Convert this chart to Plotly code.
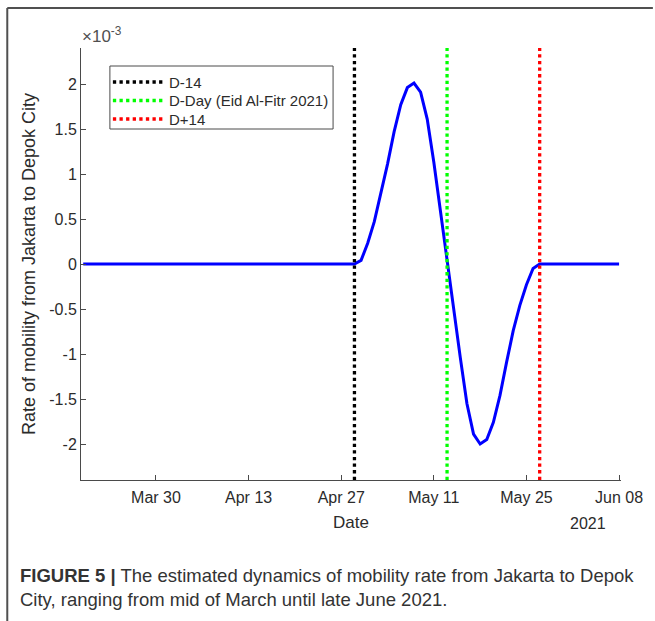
import plotly.graph_objects as go

# ---- data (rate values in units of 1e-3) ----
flat_before_dates = ["2021-03-19", "2021-04-29"]
flat_before_vals = [0.0, 0.0]

event_dates = ["2021-04-29", "2021-04-30", "2021-05-01", "2021-05-02", "2021-05-03",
               "2021-05-04", "2021-05-05", "2021-05-06", "2021-05-07", "2021-05-08",
               "2021-05-09", "2021-05-10", "2021-05-11", "2021-05-12", "2021-05-13",
               "2021-05-14", "2021-05-15", "2021-05-16", "2021-05-17", "2021-05-18",
               "2021-05-19", "2021-05-20", "2021-05-21", "2021-05-22", "2021-05-23",
               "2021-05-24", "2021-05-25", "2021-05-26", "2021-05-27"]
event_vals = [0.0, 0.04, 0.23, 0.47, 0.78, 1.11, 1.47, 1.77, 1.96, 2.01,
              1.91, 1.61, 1.13, 0.58, 0.0, -0.52, -1.04, -1.55, -1.89, -2.0,
              -1.95, -1.76, -1.46, -1.09, -0.74, -0.46, -0.23, -0.05, 0.0]

flat_after_dates = ["2021-05-27", "2021-06-08"]
flat_after_vals = [0.0, 0.0]

marker_dates = ["2021-04-29", "2021-05-13", "2021-05-27"]
marker_names = ["D-14", "D-Day (Eid Al-Fitr 2021)", "D+14"]
marker_colors = ["#000000", "#00FF00", "#FF0000"]

x_ticks = ["2021-03-30", "2021-04-13", "2021-04-27", "2021-05-11", "2021-05-25", "2021-06-08"]
x_ticktext = ["Mar 30", "Apr 13", "Apr 27", "May 11", "May 25", "Jun 08"]
y_ticks = [-2, -1.5, -1, -0.5, 0, 0.5, 1, 1.5, 2]
y_ticktext = ["-2", "-1.5", "-1", "-0.5", "0", "0.5", "1", "1.5", "2"]
y_range = [-2.4, 2.4]

dates = flat_before_dates + event_dates[1:] + flat_after_dates[1:]
vals = flat_before_vals + event_vals[1:] + flat_after_vals[1:]

FONT = "Liberation Sans, Arial, sans-serif"
TXT = "#2b2b2b"
AX = "#4a4a4a"

# layout geometry (pixels)
L, R, T, B = 81, 32, 48, 141
W, H = 655, 621
PW, PH = W - L - R, H - T - B


def px(xp):
    return (xp - L) / PW


def py(yp):
    return (H - B - yp) / PH


fig = go.Figure()
fig.add_trace(go.Scatter(x=dates, y=vals, mode="lines",
                         line=dict(color="#0000FF", width=3),
                         showlegend=False, hoverinfo="skip"))
for d, n, c in zip(marker_dates, marker_names, marker_colors):
    fig.add_trace(go.Scatter(x=[d, d], y=y_range, mode="lines", name=n,
                             line=dict(color=c, width=3.3, dash="dot"),
                             showlegend=False))

fig.update_layout(
    width=W, height=H,
    margin=dict(l=L, r=R, t=T, b=B),
    paper_bgcolor="white", plot_bgcolor="white",
    font=dict(family=FONT, size=16, color=TXT),
    showlegend=False,
    xaxis=dict(type="date", range=["2021-03-18 16:00", "2021-06-08 07:00"],
               tickvals=x_ticks, ticktext=x_ticktext,
               ticks="inside", ticklen=5, tickcolor=AX,
               showline=True, linecolor=AX, linewidth=1,
               showgrid=False, zeroline=False, ticklabelstandoff=3,
               tickfont=dict(size=16, color=TXT),
               title=dict(text="Date", font=dict(size=17, color=TXT), standoff=10)),
    yaxis=dict(range=y_range, tickvals=y_ticks, ticktext=y_ticktext,
               ticks="inside", ticklen=5, tickcolor=AX,
               showline=True, linecolor=AX, linewidth=1,
               showgrid=False, zeroline=False,
               tickfont=dict(size=16, color=TXT),
               title=dict(text="Rate of mobility from Jakarta to Depok City",
                          font=dict(size=18, color=TXT), standoff=8)),
)

# legend (box, dotted samples, labels)
fig.add_shape(type="rect", xref="paper", yref="paper",
              x0=px(110), x1=px(334), y0=py(129), y1=py(66),
              line=dict(color=AX, width=1), fillcolor="white", layer="above")
for i, (n, c) in enumerate(zip(marker_names, marker_colors)):
    yy = py(82 + 18.5 * i)
    fig.add_shape(type="line", xref="paper", yref="paper",
                  x0=px(113), x1=px(163), y0=yy, y1=yy,
                  line=dict(color=c, width=3.3, dash="dot"), layer="above")
    fig.add_annotation(xref="paper", yref="paper", x=px(167), y=yy,
                       xanchor="left", yanchor="middle", text=n, showarrow=False,
                       font=dict(size=15, color=TXT))

# exponent and year labels
fig.add_annotation(xref="paper", yref="paper", x=px(80), y=py(48), xanchor="left", yanchor="bottom",
                   text="×10<sup>-3</sup>", showarrow=False,
                   font=dict(size=17, color="#505050"))
fig.add_annotation(xref="paper", yref="paper", x=px(590), y=0, xanchor="center", yanchor="top",
                   text="2021", showarrow=False, yshift=-33,
                   font=dict(size=16, color=TXT))

# caption
fig.add_annotation(xref="paper", yref="paper", x=px(18), y=py(563),
                   xanchor="left", yanchor="top", align="left",
                   text="<b>FIGURE 5 |</b> The estimated dynamics of mobility rate from Jakarta to Depok<br>City, ranging from mid of March until late June 2021.",
                   showarrow=False,
                   font=dict(size=18.5, color="#333333", family=FONT))

# figure frame (left and top border)
fig.add_shape(type="line", xref="paper", yref="paper",
              x0=px(7), x1=px(655), y0=py(8), y1=py(8),
              line=dict(color="#505050", width=2))
fig.add_shape(type="line", xref="paper", yref="paper",
              x0=px(7), x1=px(7), y0=py(8), y1=py(621),
              line=dict(color="#505050", width=2))

fig.write_html("out.html", config={"displayModeBar": False},
               post_script="document.body.style.margin='0';document.body.style.overflow='hidden';")
